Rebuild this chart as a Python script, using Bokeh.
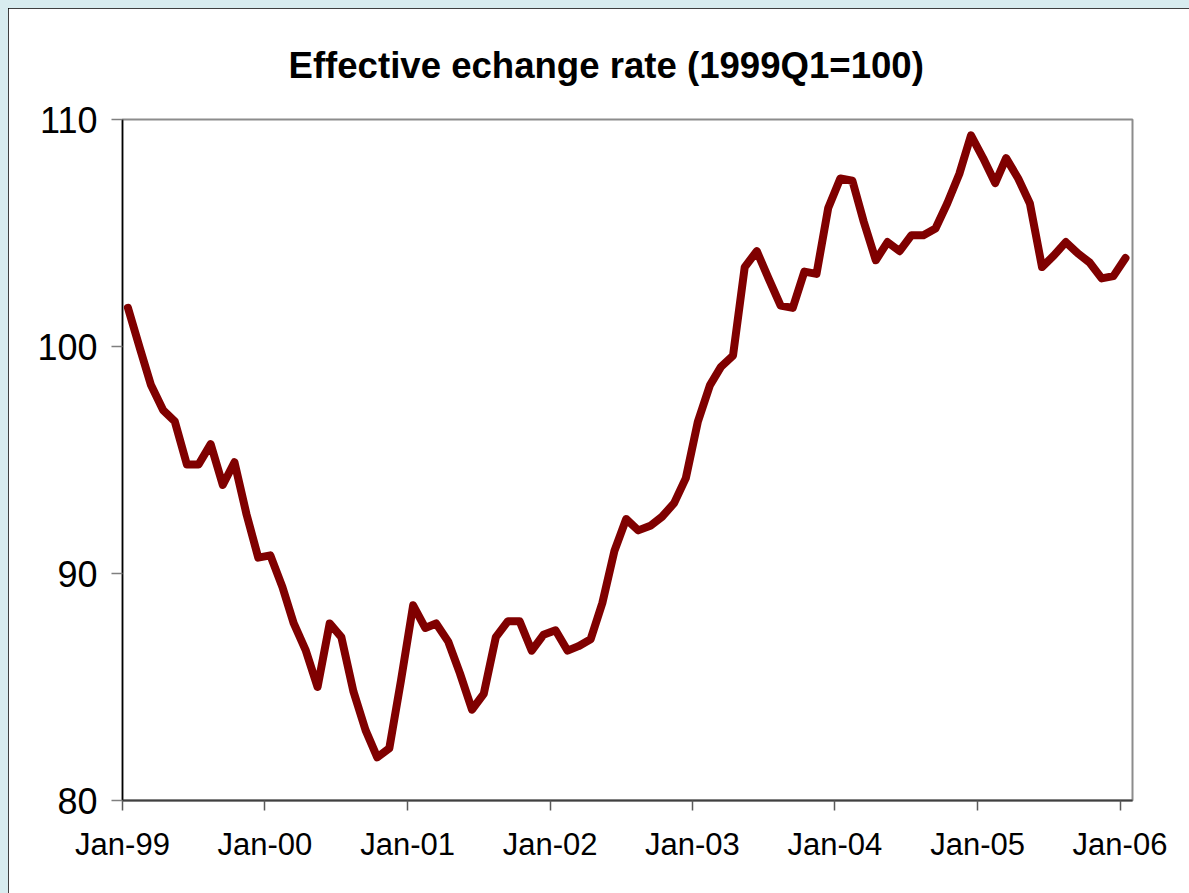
from datetime import datetime
import pandas as pd
from bokeh.plotting import figure
from bokeh.models import Range1d, FixedTicker, GlobalInlineStyleSheet
from bokeh.embed import file_html
from bokeh.resources import INLINE

# ---- data (monthly, mid-month observations, Jan-1999 .. Jan-2006) ----
dates = pd.date_range("1999-01-01", periods=85, freq="MS") + pd.Timedelta(days=14)
eer = [
    101.7, 99.9, 98.3, 97.2, 96.7, 94.8, 94.8, 95.7, 93.9, 94.9, 92.6, 90.7,   # 1999
    90.8, 89.4, 87.8, 86.6, 85.0, 87.8, 87.2, 84.8, 83.1, 81.9, 82.3, 85.3,    # 2000
    88.6, 87.6, 87.8, 87.0, 85.6, 84.0, 84.7, 87.2, 87.9, 87.9, 86.6, 87.3,    # 2001
    87.5, 86.6, 86.8, 87.1, 88.7, 91.0, 92.4, 91.9, 92.1, 92.5, 93.1, 94.2,    # 2002
    96.7, 98.3, 99.1, 99.6, 103.5, 104.2, 103.0, 101.8, 101.7, 103.3, 103.2, 106.1,  # 2003
    107.4, 107.3, 105.5, 103.8, 104.6, 104.2, 104.9, 104.9, 105.2, 106.3, 107.6, 109.3,  # 2004
    108.3, 107.2, 108.3, 107.4, 106.3, 103.5, 104.0, 104.6, 104.1, 103.7, 103.0, 103.1,  # 2005
    103.9,                                                                       # 2006
]
tick_years = [1999, 2000, 2001, 2002, 2003, 2004, 2005, 2006]
tick_labels = ["Jan-99", "Jan-00", "Jan-01", "Jan-02", "Jan-03", "Jan-04", "Jan-05", "Jan-06"]
y_ticks = [80, 90, 100, 110]
title_text = "Effective echange rate (1999Q1=100)"

tick_ms = [int(pd.Timestamp(year=y, month=1, day=1).value // 10**6) for y in tick_years]

page_css = GlobalInlineStyleSheet(css="""
html { background-color: #d8ecef !important; overflow: hidden !important; }
body { background-color: #d8ecef !important; margin: 8px 0 0 8px !important; overflow: hidden !important; }
""")

p = figure(
    width=1181, height=885,
    x_axis_type="datetime",
    x_range=Range1d(datetime(1999, 1, 1), datetime(2006, 2, 2)),
    y_range=Range1d(80, 110),
    output_backend="svg",
    toolbar_location=None,
    min_border_left=114, min_border_right=57,
    min_border_top=110, min_border_bottom=93,
)
p.stylesheets.append(page_css)
p.styles = {"outline": "2px solid #000000", "outline-offset": "-2px"}

p.background_fill_color = "white"
p.border_fill_color = "white"
p.outline_line_color = "#8c8c8c"
p.outline_line_width = 2
p.xgrid.visible = False
p.ygrid.visible = False

p.line(dates, eer, line_color="#800000", line_width=8,
       line_join="round", line_cap="round")

# y axis
ya = p.yaxis[0]
ya.ticker = FixedTicker(ticks=y_ticks)
ya.axis_line_color = "#000000"
ya.axis_line_width = 1.5
ya.major_tick_line_color = "#7f7f7f"
ya.major_tick_line_width = 1.5
ya.major_tick_out = 11
ya.major_tick_in = 0
ya.minor_tick_line_color = None
ya.major_label_standoff = 14
ya.major_label_text_font = "Liberation Sans"
ya.major_label_text_font_size = "36px"
ya.major_label_text_color = "#000000"

# x axis
xa = p.xaxis[0]
xa.ticker = FixedTicker(ticks=tick_ms)
xa.major_label_overrides = {ms: lab for ms, lab in zip(tick_ms, tick_labels)}
xa.axis_line_color = "#404040"
xa.axis_line_width = 2
xa.major_tick_line_color = "#5a5a5a"
xa.major_tick_line_width = 1.5
xa.major_tick_out = 10
xa.major_tick_in = 0
xa.minor_tick_line_color = None
xa.major_label_standoff = 16
xa.major_label_text_font = "Liberation Sans"
xa.major_label_text_font_size = "31px"
xa.major_label_text_color = "#000000"

# title
p.title.text = title_text
p.title.align = "left"
p.title.offset = 166
p.title.standoff = 68
p.title.text_font = "Liberation Sans"
p.title.text_font_style = "bold"
p.title.text_font_size = "36.6px"
p.title.text_color = "#000000"

open("out.html", "w").write(file_html(p, INLINE))
